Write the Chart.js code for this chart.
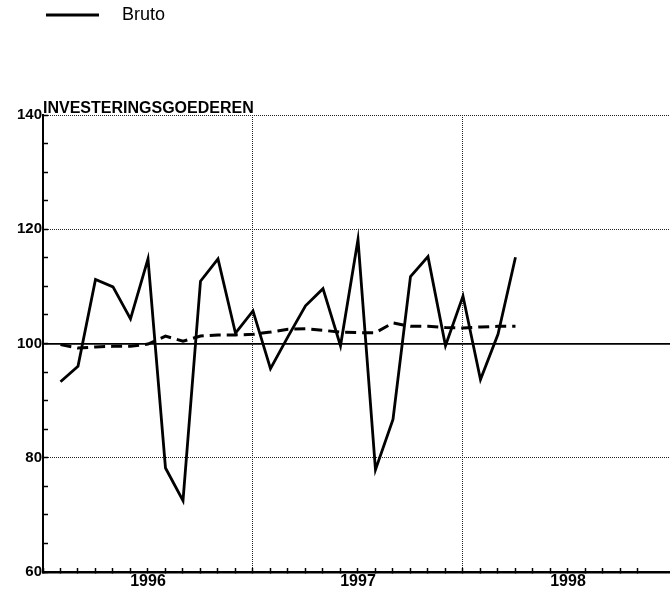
<!DOCTYPE html>
<html>
<head>
<meta charset="utf-8">
<script src="https://cdn.jsdelivr.net/npm/chart.js@4.4.1/dist/chart.umd.min.js"></script>
<style>
  html, body { margin: 0; padding: 0; background: #fff; }
  canvas { display: block; }
</style>
</head>
<body>
<canvas id="invChart" width="670" height="598"></canvas>
<script>
// Investeringsgoederen, monthly index (100 = base), Feb 1996 - Apr 1998
const PERIODS = [
    '1996-02', '1996-03', '1996-04', '1996-05', '1996-06', '1996-07', '1996-08', '1996-09', '1996-10', '1996-11', '1996-12',
    '1997-01', '1997-02', '1997-03', '1997-04', '1997-05', '1997-06', '1997-07', '1997-08', '1997-09', '1997-10', '1997-11', '1997-12',
    '1998-01', '1998-02', '1998-03', '1998-04'
];
const BRUTO = [93.3, 96.0, 111.2, 109.9, 104.3, 114.8, 78.2, 72.5, 110.9, 114.8, 101.8,
    105.7, 95.6, 101.2, 106.6, 109.6, 99.6, 118.2, 77.9, 86.7, 111.7, 115.2, 99.6,
    108.3, 93.7, 101.6, 115.1];
const TREND = [99.8, 99.2, 99.4, 99.5, 99.5, 99.9, 101.3, 100.4, 101.3, 101.5, 101.5,
    101.6, 102.0, 102.5, 102.6, 102.3, 102.0, 101.9, 101.9, 103.6, 103.0, 103.0, 102.8,
    102.7, 102.9, 103.0, 103.0];
const YEARS = ['1996', '1997', '1998'];
const Y_LABELS = [60, 80, 100, 120, 140];
const REF_LEVEL = 100;

const FIRST_YEAR = 1996;
const X_MAX = 35.83;   // the picture is cut off just before Jan 1999
const FONT = "'Liberation Sans', Arial, sans-serif";
const CLEAR = 'rgba(0,0,0,0)';

// month offset from Jan 1996 (axis origin)
function monthIndex(p) {
    const [y, m] = p.split('-').map(Number);
    return (y - FIRST_YEAR) * 12 + (m - 1);
}
const points = vals => PERIODS.map((p, i) => ({ x: monthIndex(p), y: vals[i] }));

// legend sample: a short line followed by some blank space before the label
const legendMark = document.createElement('canvas');
legendMark.width = 67;
legendMark.height = 18;
(function () {
    const c = legendMark.getContext('2d');
    c.strokeStyle = '#000';
    c.lineWidth = 3;
    c.beginPath();
    c.moveTo(0, 9);
    c.lineTo(53, 9);
    c.stroke();
})();

new Chart(document.getElementById('invChart'), {
    type: 'line',
    data: {
        datasets: [
            {
                label: 'Bruto',
                data: points(BRUTO),
                borderColor: '#000',
                backgroundColor: '#000',
                borderWidth: 2.8,
                pointRadius: 0,
                tension: 0
            },
            {
                label: 'Trend',
                data: points(TREND),
                borderColor: '#000',
                backgroundColor: '#000',
                borderWidth: 3,
                borderDash: [11, 6],
                pointRadius: 0,
                tension: 0
            }
        ]
    },
    options: {
        responsive: false,
        animation: false,
        devicePixelRatio: 1,
        layout: { padding: { left: 10, right: 0, top: 3, bottom: 0 } },
        plugins: {
            legend: {
                display: true,
                position: 'top',
                align: 'start',
                fullSize: false,
                labels: {
                    filter: item => item.datasetIndex === 0,
                    usePointStyle: true,
                    pointStyle: legendMark,
                    pointStyleWidth: 67,
                    padding: 3,
                    color: '#000',
                    font: { family: FONT, size: 18 }
                }
            },
            title: {
                display: true,
                text: 'INVESTERINGSGOEDEREN',
                align: 'start',
                fullSize: false,
                weight: 500,
                color: '#000',
                font: { family: FONT, size: 16, weight: 'bold', lineHeight: 1 },
                padding: { top: 67, bottom: -2 }
            },
            tooltip: { enabled: false }
        },
        scales: {
            x: {
                type: 'linear',
                min: 0,
                max: X_MAX,
                afterFit: s => { s.height = 26; s.paddingRight = 0; },
                ticks: {
                    stepSize: 1,
                    autoSkip: false,
                    maxRotation: 0,
                    padding: 4,
                    color: '#000',
                    font: { family: FONT, size: 16, weight: 'bold' },
                    callback: v => (v % 12 === 6 ? YEARS[(v - 6) / 12] : '')
                },
                grid: {
                    color: c => (c.tick && c.tick.value % 12 === 0 && c.tick.value > 0 ? '#222' : CLEAR),
                    lineWidth: 1,
                    tickColor: c => (c.tick && Number.isInteger(c.tick.value) ? '#000' : CLEAR),
                    tickLength: -4,
                    tickWidth: 1.5
                },
                border: { display: true, color: '#000', width: 2.5, dash: [1, 1] }
            },
            y: {
                min: 60,
                max: 140,
                afterFit: s => { s.width = 33; },
                ticks: {
                    stepSize: 5,
                    padding: 6,
                    color: '#000',
                    font: { family: FONT, size: 15, weight: 'bold' },
                    callback: v => (Y_LABELS.includes(v) ? String(v) : '')
                },
                grid: {
                    color: c => (c.tick && Y_LABELS.includes(c.tick.value) && c.tick.value !== 60 && c.tick.value !== REF_LEVEL ? '#222' : CLEAR),
                    lineWidth: 1,
                    tickColor: '#000',
                    tickLength: -5,
                    tickWidth: 1.5
                },
                border: { display: true, color: '#000', width: 2, dash: [1, 1] }
            },
            // solid reference line at the base level
            yRef: {
                position: 'right',
                min: 60,
                max: 140,
                afterFit: s => { s.width = 0; },
                afterBuildTicks: s => { s.ticks = [{ value: REF_LEVEL }]; },
                ticks: { display: false },
                grid: { color: '#000', lineWidth: 1.8, drawTicks: false },
                border: { display: false }
            }
        }
    }
});
</script>
</body>
</html>
